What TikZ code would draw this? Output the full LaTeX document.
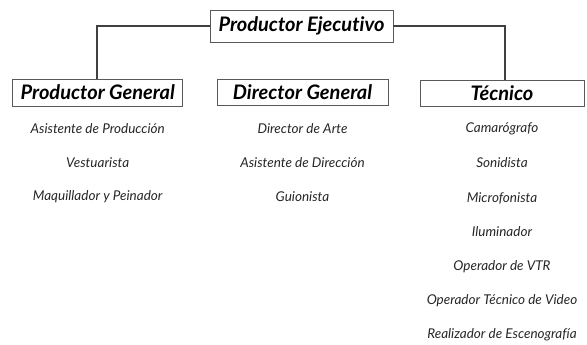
\documentclass[tikz,border=0pt]{standalone}
\usepackage{fontspec}
\setmainfont{Lato}[Ligatures={NoCommon,NoRare,NoContextual}]
\begin{document}
\begin{tikzpicture}[x=1pt,y=-1pt,
  headbox/.style={draw=black!65,line width=0.9pt,inner sep=0pt,font=\fontsize{20}{20}\selectfont\bfseries\itshape},
  item/.style={inner sep=0pt,font=\fontsize{13.5}{14}\selectfont\itshape,text=black!85},
  conn/.style={draw=black!75,line width=1.2pt}]
\useasboundingbox (0,0) rectangle (587,345);
\node[headbox,minimum width=183pt,minimum height=32pt] (pe) at (301.5,26) {Productor Ejecutivo};
\node[headbox,minimum width=170pt,minimum height=27pt] (pg) at (97.7,92.5) {Productor General};
\node[headbox,minimum width=171pt,minimum height=26pt] (dg) at (302.5,92) {Director General};
\node[headbox,minimum width=164pt,minimum height=26pt] (tc) at (502,93) {Técnico};
\coordinate (cl) at (97,26);
\coordinate (cr) at (505,26);
\draw[conn] (pe.west) -- (cl) -- (cl |- pg.north);
\draw[conn] (pe.east) -- (cr) -- (cr |- tc.north);
% Productor General items
\node[item] (a1) at (97.7,129) {Asistente de Producción};
\node[item] (a2) at (97.7,163) {Vestuarista};
\node[item] (a3) at (97.7,197) {Maquillador y Peinador};
% Director General items
\node[item] (b1) at (302.5,129) {Director de Arte};
\node[item] (b2) at (302.5,163) {Asistente de Dirección};
\node[item] (b3) at (302.5,197) {Guionista};
% Tecnico items
\node[item] (c1) at (502,129) {Camarógrafo};
\node[item] (c2) at (502,163) {Sonidista};
\node[item] (c3) at (502,198) {Microfonista};
\node[item] (c4) at (502,232) {Iluminador};
\node[item] (c5) at (502,267) {Operador de VTR};
\node[item] (c6) at (502,301) {Operador Técnico de Video};
\node[item] (c7) at (502,335) {Realizador de Escenografía};
\end{tikzpicture}
\end{document}
